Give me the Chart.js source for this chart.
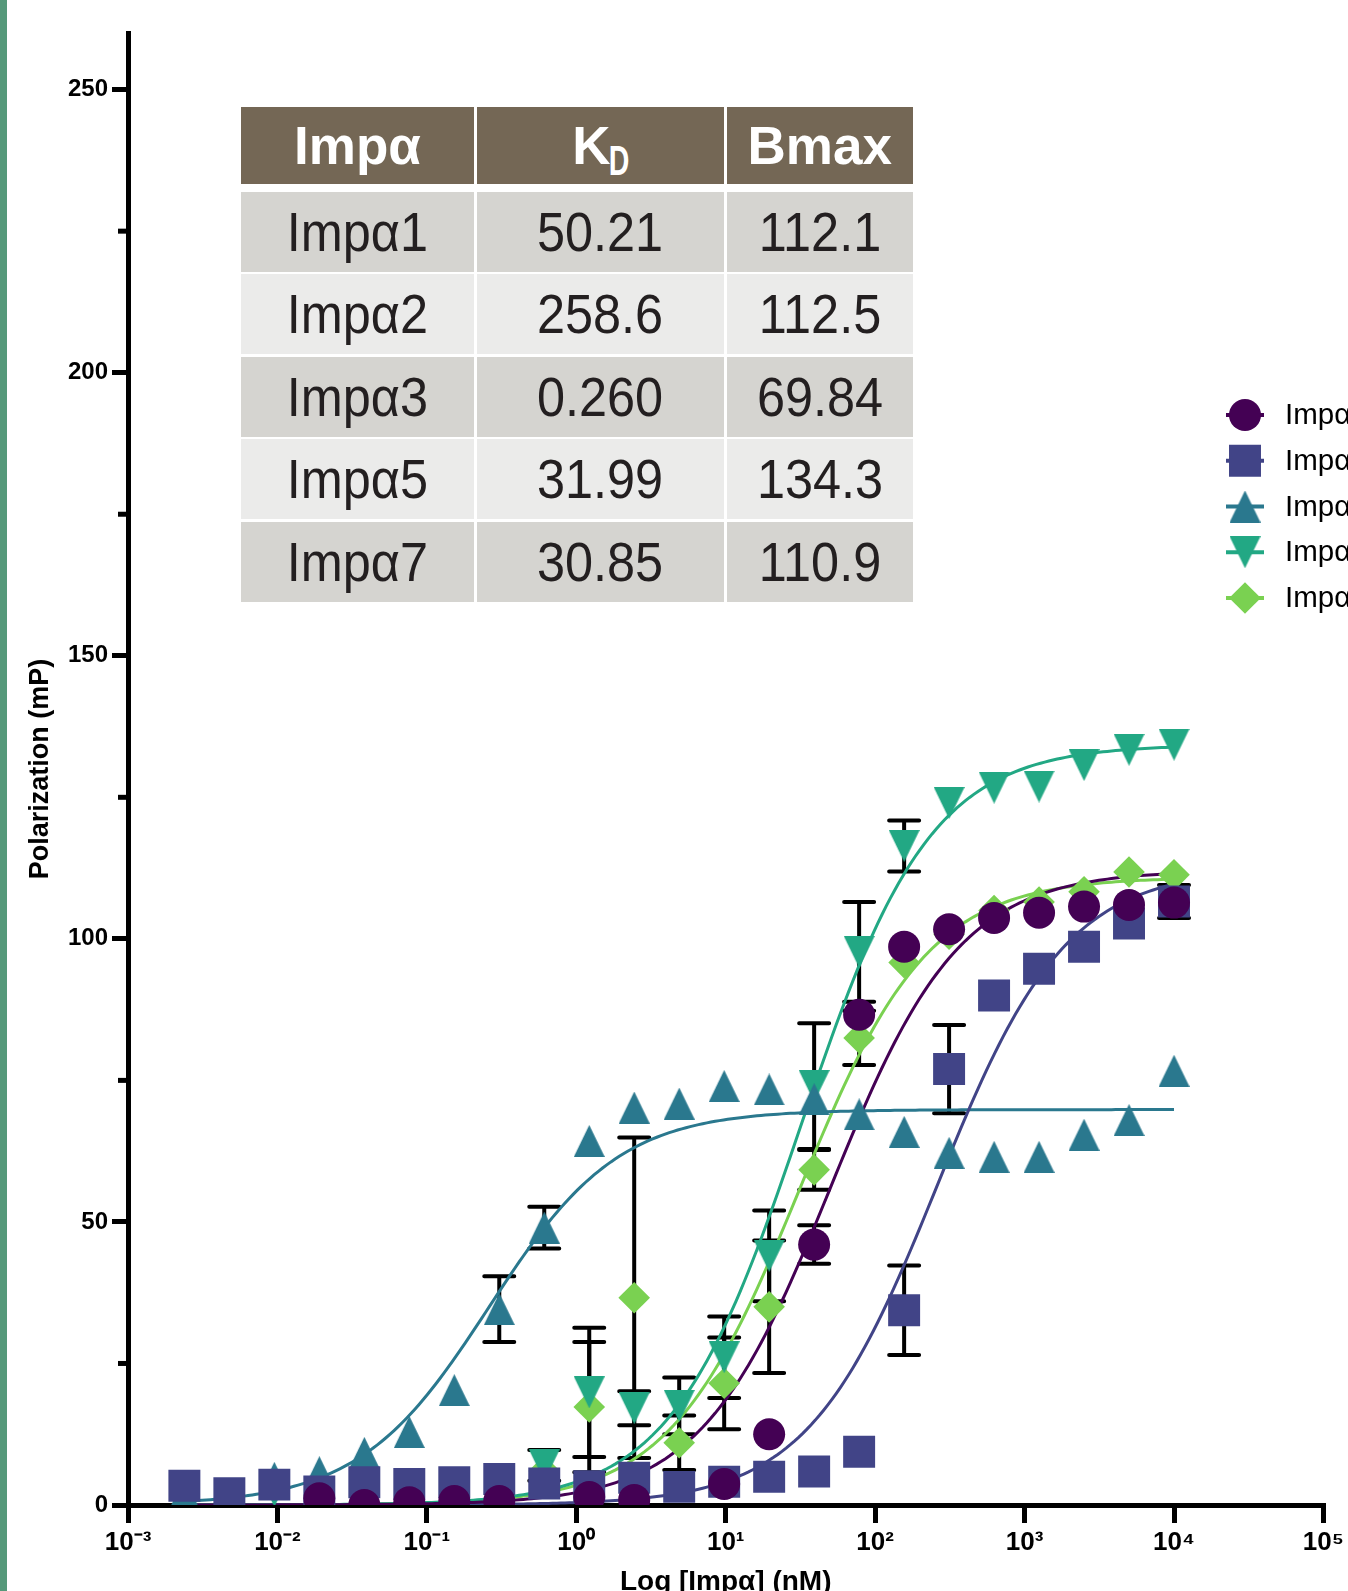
<!DOCTYPE html>
<html>
<head>
<meta charset="utf-8">
<script src="https://cdn.jsdelivr.net/npm/chart.js@4/dist/chart.umd.min.js"></script>
<style>
html,body{margin:0;padding:0;background:#fff;}
body{width:1348px;height:1591px;position:relative;overflow:hidden;}
#chart{position:absolute;left:0;top:0;}
#bar{position:absolute;left:0;top:0;width:7px;height:1591px;background:#55997a;z-index:5;}
.cell{position:absolute;display:flex;align-items:center;justify-content:center;
  font-family:"Liberation Sans",Arial,Helvetica,sans-serif;line-height:1;z-index:4;white-space:nowrap;}
.hd{background:#746755;color:#fff;font-weight:bold;font-size:53px;}
.bd{color:#231f20;font-size:56px;}
.bd span{display:inline-block;transform:scaleX(0.9);}
.sub{display:inline-block;font-size:42px;transform:scaleX(0.68);position:relative;top:16px;margin-left:-6px;margin-right:-7px;}
</style>
</head>
<body>
<canvas id="chart" width="1348" height="1591"></canvas>
<div id="bar"></div>
<div id="table"></div>
<script>
// ---------- data ----------
const seriesNames = ['Impα1', 'Impα2', 'Impα3', 'Impα5', 'Impα7'];
// concentrations (nM), 2-fold dilution series
const concentrations = [10000, 5000, 2500, 1250, 625, 312.5, 156.3, 78.13, 39.06, 19.53, 9.766, 4.883, 2.441, 1.221, 0.6104, 0.3052, 0.1526, 0.07629, 0.03815, 0.01907, 0.009537, 0.004768, 0.002384];

const impa1Values = [106.4, 106.0, 105.7, 104.6, 103.7, 101.7, 98.6, 86.6, 46.0, 12.5, 3.7, null, 0.9, 1.4, null, 0.7, 0.7, 0.5, 0.0, 1.2, null, null, null];
const impa2Values = [106.6, 102.7, 98.6, 94.7, 90.0, 77.0, 34.4, 9.4, 5.9, 5.0, 4.1, 3.2, 4.8, 3.3, 3.8, 4.6, 4.0, 3.7, 4.0, 2.4, 3.6, 2.1, 3.4];
const impa3Values = [76.7, 68.0, 65.4, 61.5, 61.5, 62.2, 65.9, 69.0, 71.7, 73.4, 74.0, 70.9, 70.2, 64.3, 49.0, 34.6, 20.3, 12.9, 9.2, 5.8, 4.8, 2.0, 2.0];
const impa5Values = [134.3, 133.4, 130.7, 126.9, 126.7, 124.0, 116.4, 97.7, 74.0, 44.0, 26.1, 17.5, 17.1, 19.9, 7.0, null, null, null, null, null, 2.5, null, null];
const impa7Values = [111.3, 111.8, 108.3, 106.5, 105.0, 100.8, 95.8, 82.5, 59.2, 35.0, 21.5, 11.0, 36.6, 17.3, 6.0, null, null, null, null, null, null, null, null];

const impa1Errors = [null, null, null, null, null, null, null, null, 3.4, null, null, null, null, null, null, null, null, null, null, null, null, null, null];
const impa2Errors = [2.9, null, null, null, null, 7.8, 7.9, null, null, null, null, null, null, null, null, null, null, null, null, null, null, null, null];
const impa3Errors = [null, null, null, null, null, null, null, null, null, null, null, null, null, null, 3.7, 5.8, null, null, null, null, null, null, null];
const impa5Errors = [null, null, null, null, null, null, 4.5, 8.8, 11.1, 8.0, 7.2, 5.0, 3.0, 11.4, 2.7, null, null, null, null, null, null, null, null];
const impa7Errors = [null, null, null, null, null, null, null, 4.8, 3.5, 11.7, 8.1, 4.8, 28.3, 11.5, null, null, null, null, null, null, null, null, null];

// fit table (KD in nM, Bmax in mP)
const kdLabels = ['50.21', '258.6', '0.260', '31.99', '30.85'];
const bmaxLabels = ['112.1', '112.5', '69.84', '134.3', '110.9'];

const xTickLabels = ['10⁻³', '10⁻²', '10⁻¹', '10⁰', '10¹', '10²', '10³', '10⁴', '10⁵'];
const xTickValues = [0.001, 0.01, 0.1, 1, 10, 100, 1000, 10000, 100000];
const yTickValues = [0, 50, 100, 150, 200, 250];
const yMinorTickValues = [25, 75, 125, 175, 225];

// ---------- styling ----------
const colors = ['#440154', '#414487', '#2a788e', '#22a884', '#7ad151'];
const FONT = '"Liberation Sans", Arial, Helvetica, sans-serif';

function triCanvas(color, down) {
  const w = 31, h = 32;
  const c = document.createElement('canvas');
  c.width = w; c.height = h;
  const g = c.getContext('2d');
  g.fillStyle = color;
  g.beginPath();
  if (down) { g.moveTo(0, 0); g.lineTo(w, 0); g.lineTo(w / 2, h); }
  else { g.moveTo(w / 2, 0); g.lineTo(w, h); g.lineTo(0, h); }
  g.closePath(); g.fill();
  return c;
}
const pointStyles = ['circle', 'rect', triCanvas(colors[2], false), triCanvas(colors[3], true), 'rectRot'];
const pointRadii = [16, 22.6, 16, 16, 15.8];

const valueSets = [impa1Values, impa2Values, impa3Values, impa5Values, impa7Values];
const errorSets = [impa1Errors, impa2Errors, impa3Errors, impa5Errors, impa7Errors];

function toPoints(values) {
  const pts = [];
  values.forEach((v, i) => { if (v !== null) pts.push({x: concentrations[i], y: v}); });
  return pts;
}

// one-site binding model curve, from the table's KD and Bmax
function fitCurve(kd, bmax) {
  const pts = [];
  const lo = Math.log10(0.002), hi = Math.log10(10000), n = 240;
  for (let k = 0; k <= n; k++) {
    const x = Math.pow(10, lo + (hi - lo) * k / n);
    pts.push({x: x, y: bmax * x / (kd + x)});
  }
  return pts;
}

const datasets = [];
seriesNames.forEach((name, s) => {
  datasets.push({
    label: name,
    data: toPoints(valueSets[s]),
    pointStyle: pointStyles[s],
    pointRadius: pointRadii[s],
    pointHoverRadius: pointRadii[s],
    pointBackgroundColor: colors[s],
    pointBorderWidth: 0,
    showLine: false
  });
});
seriesNames.forEach((name, s) => {
  datasets.push({
    label: name + ' fit',
    data: fitCurve(parseFloat(kdLabels[s]), parseFloat(bmaxLabels[s])),
    showLine: true,
    borderColor: colors[s],
    borderWidth: 3,
    pointRadius: 0,
    pointHoverRadius: 0,
    tension: 0
  });
});

const errorBarPlugin = {
  id: 'errorBars',
  beforeDatasetsDraw(chart) {
    const {ctx, chartArea, scales: {x, y}} = chart;
    ctx.save();
    ctx.beginPath();
    ctx.rect(chartArea.left, chartArea.top, chartArea.right - chartArea.left, chartArea.bottom - chartArea.top);
    ctx.clip();
    ctx.strokeStyle = '#000';
    ctx.lineWidth = 4;
    ctx.lineCap = 'round';
    valueSets.forEach((vals, s) => {
      vals.forEach((v, i) => {
        const e = errorSets[s][i];
        if (v === null || e === null) return;
        const px = x.getPixelForValue(concentrations[i]);
        const t = y.getPixelForValue(v + e), b = y.getPixelForValue(v - e);
        ctx.beginPath();
        ctx.moveTo(px, t); ctx.lineTo(px, b);
        ctx.moveTo(px - 15, t); ctx.lineTo(px + 15, t);
        ctx.moveTo(px - 15, b); ctx.lineTo(px + 15, b);
        ctx.stroke();
      });
    });
    ctx.restore();
  }
};

const minorTickPlugin = {
  id: 'minorTicks',
  afterDraw(chart) {
    const {ctx, chartArea, scales: {y}} = chart;
    ctx.save();
    ctx.strokeStyle = '#000';
    ctx.lineWidth = 5;
    yMinorTickValues.forEach(v => {
      const py = y.getPixelForValue(v);
      ctx.beginPath();
      ctx.moveTo(chartArea.left - 10, py);
      ctx.lineTo(chartArea.left, py);
      ctx.stroke();
    });
    ctx.restore();
  }
};

const legendPlugin = {
  id: 'customLegend',
  afterDraw(chart) {
    const ctx = chart.ctx;
    ctx.save();
    seriesNames.forEach((name, s) => {
      const cy = 415 + s * 45.75;
      ctx.strokeStyle = colors[s];
      ctx.lineWidth = 4;
      ctx.beginPath();
      ctx.moveTo(1226, cy); ctx.lineTo(1264, cy);
      ctx.stroke();
      ctx.fillStyle = colors[s];
      Chart.helpers.drawPoint(ctx, {pointStyle: pointStyles[s], radius: pointRadii[s], rotation: 0, borderWidth: 0}, 1245, cy);
      ctx.fillStyle = '#000';
      ctx.font = '29.5px ' + FONT;
      ctx.textBaseline = 'middle';
      ctx.textAlign = 'left';
      ctx.fillText(name, 1285, cy + 1);
    });
    ctx.restore();
  }
};

new Chart(document.getElementById('chart'), {
  type: 'scatter',
  data: {datasets: datasets},
  options: {
    responsive: false,
    animation: false,
    devicePixelRatio: 1,
    layout: {padding: {top: 33, right: 21, left: 0, bottom: 0}},
    plugins: {legend: {display: false}, tooltip: {enabled: false}},
    scales: {
      x: {
        type: 'logarithmic',
        position: 'bottom',
        min: 0.001,
        max: 100000,
        afterBuildTicks(s) { s.ticks = xTickValues.map(v => ({value: v})); },
        afterFit(s) { s.height = 86; },
        ticks: {
          autoSkip: false, maxRotation: 0, minRotation: 0,
          callback: (v, i) => xTickLabels[i],
          font: {family: FONT, size: 26, weight: 'bold'},
          color: '#000',
          padding: 4
        },
        grid: {drawOnChartArea: false, drawTicks: true, tickLength: 18, tickWidth: 5, lineWidth: 5, color: '#000'},
        border: {display: true, color: '#000', width: 5},
        title: {
          display: true, text: 'Log [Impα] (nM)', color: '#000',
          font: {family: FONT, size: 28, weight: 'bold', lineHeight: 0.64},
          padding: {top: 0, bottom: 0}
        }
      },
      y: {
        min: 0,
        max: 260,
        afterBuildTicks(s) { s.ticks = yTickValues.map(v => ({value: v})); },
        afterFit(s) { s.width = 128; },
        ticks: {
          font: {family: FONT, size: 24, weight: 'bold'},
          color: '#000',
          padding: 4
        },
        grid: {drawOnChartArea: false, drawTicks: true, tickLength: 16, tickWidth: 5, lineWidth: 5, color: '#000'},
        border: {display: true, color: '#000', width: 5},
        title: {
          display: true, text: 'Polarization (mP)', color: '#000',
          font: {family: FONT, size: 27, weight: 'bold'},
          padding: {top: 24, bottom: 0}
        }
      }
    }
  },
  plugins: [errorBarPlugin, minorTickPlugin, legendPlugin]
});

// ---------- fit-parameter table ----------
(function buildTable() {
  const t = document.getElementById('table');
  const colLeft = [241, 476.5, 726.5];
  const colWidth = [233, 247, 186.5];
  const headers = ['Impα', 'K<span class="sub">D</span>', 'Bmax'];
  headers.forEach((h, c) => {
    const d = document.createElement('div');
    d.className = 'cell hd';
    d.style.left = colLeft[c] + 'px'; d.style.width = colWidth[c] + 'px';
    d.style.top = '106.5px'; d.style.height = '77px';
    d.innerHTML = h;
    t.appendChild(d);
  });
  seriesNames.forEach((name, r) => {
    const rowVals = [name, kdLabels[r], bmaxLabels[r]];
    rowVals.forEach((txt, c) => {
      const d = document.createElement('div');
      d.className = 'cell bd';
      d.style.left = colLeft[c] + 'px'; d.style.width = colWidth[c] + 'px';
      d.style.top = (191.5 + r * 82.5) + 'px'; d.style.height = '80px';
      d.style.background = r % 2 === 0 ? '#d5d4d0' : '#ebebea';
      const sp = document.createElement('span');
      sp.textContent = txt;
      d.appendChild(sp);
      t.appendChild(d);
    });
  });
})();
</script>
</body>
</html>
